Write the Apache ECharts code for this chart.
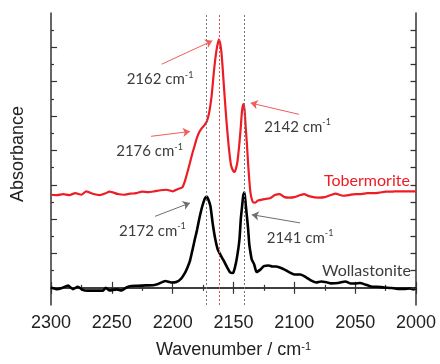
<!DOCTYPE html>
<html>
<head>
<meta charset="utf-8">
<script src="https://cdn.jsdelivr.net/npm/echarts@6/dist/echarts.min.js"></script>
<style>
  html, body { margin: 0; padding: 0; background: #fff; }
  #chart { width: 440px; height: 364px; }
</style>
</head>
<body>
<div id="chart"></div>
<script>
// Tobermorite (red) spectrum
const tobWn = [2300,2295,2290,2285,2280,2275,2271,2265,2260,2255,2252,2245,2240,2235,2230,2225,2220,2215,2210,2205,
  2200,2196,2192,2190,2188,2186,2184,2182,2180,2178,2176,2174,2172,2170,2168,2166,2164,2162,2160,2158,
  2156,2154,2152,2150,2149,2147,2146,2145,2144,2143,2142,2141,2140,2139,2138,2137,2136,2134,2132,2130,
  2125,2120,2116,2112,2108,2104,2100,2095,2092,2088,2080,2075,2070,2066,2060,2055,2050,2045,2040,2035,
  2030,2025,2020,2015,2010,2005,2000];
const tobAbs = [2.71,2.70,2.73,2.70,2.755,2.71,2.81,2.73,2.70,2.755,2.80,2.73,2.71,2.74,2.755,2.80,2.785,2.81,2.84,2.855,
  2.81,2.87,2.93,3.10,3.35,3.61,3.89,4.13,4.37,4.54,4.65,4.73,4.84,5.10,5.58,6.33,6.91,7.23,6.88,5.93,
  4.95,4.14,3.56,3.39,3.375,3.62,3.91,4.26,4.69,5.15,5.35,5.21,4.69,4.20,3.62,3.13,2.755,2.49,2.48,2.54,
  2.58,2.61,2.70,2.73,2.64,2.625,2.64,2.70,2.73,2.67,2.625,2.64,2.70,2.74,2.68,2.70,2.73,2.73,2.755,2.755,
  2.77,2.80,2.80,2.81,2.81,2.81,2.81];

// Wollastonite (black) spectrum
const wolWn = [2300,2295,2291,2286,2282,2278,2274,2270,2262,2257,2255,2252,2246,2242,2238,2234,2229,2222,2216,2212,
  2206,2201,2197,2193,2190,2188,2186,2184,2182,2180,2178,2176,2174,2173,2172,2171,2169,2167,2165,2163,
  2161,2159,2157,2155,2153,2151,2150,2148,2146,2145,2144,2143,2142,2141,2140,2139,2138,2137,2136,2135,
  2133,2131,2128,2125,2121,2118,2115,2112,2108,2104,2100,2095,2090,2086,2082,2078,2073,2070,2064,2058,
  2054,2050,2046,2042,2037,2032,2026,2020,2015,2010,2005,2002,2000];
const wolAbs = [0.01,-0.04,-0.005,0.065,-0.04,0.03,-0.06,-0.083,-0.083,-0.075,0.0,-0.075,-0.045,-0.075,0.01,0.055,0.06,0.07,0.075,0.11,
  0.2,0.157,0.17,0.27,0.43,0.58,0.76,1.06,1.38,1.68,2.03,2.33,2.56,2.63,2.66,2.6,2.38,1.85,1.42,1.12,
  0.98,0.85,0.72,0.58,0.46,0.43,0.45,0.72,1.15,1.45,2.0,2.35,2.68,2.78,2.44,2.09,1.72,1.26,1.02,0.83,
  0.68,0.46,0.53,0.63,0.65,0.62,0.62,0.59,0.53,0.45,0.39,0.39,0.30,0.21,0.157,0.186,0.157,0.13,0.14,0.186,
  0.127,0.127,0.14,0.10,0.04,0.03,0.01,-0.005,-0.03,-0.03,-0.02,-0.045,-0.005];

const tobPeaks = [2162, 2176, 2142];
const wolPeaks = [2172, 2141];
const guideLines = [2172, 2162, 2141];

// annotation placement (data coords): text centre, arrow tail, arrow head
const tobNotes = [
  { text: [2210.4, 6.07], from: [2209, 6.51], to: [2167.4, 7.19] },
  { text: [2219, 3.97], from: [2217.8, 4.41], to: [2185.8, 4.55] },
  { text: [2097.4, 4.69], from: [2096.2, 5.05], to: [2135.9, 5.38] }
];
const wolNotes = [
  { text: [2216.6, 1.66], from: [2214.5, 2.08], to: [2185.8, 2.47] },
  { text: [2095.3, 1.46], from: [2095.3, 1.89], to: [2135.0, 2.13] }
];

const RED = '#ee1c24';
const INK = '#3c3c3c';
const AXIS = '#333';
const RIGHT_TICK = 4.5; // right-edge tick length, in cm-1 (about 5px)

const pairs = (xs, ys) => xs.map((x, i) => [x, ys[i]]);
const majorY = [0, 1, 2, 3, 4, 5, 6, 7];
const minorY = [0.5, 1.5, 2.5, 3.5, 4.5, 5.5, 6.5, 7.5];

const noteRich = {
  n: { fontFamily: 'Lato', fontSize: 15, color: INK, lineHeight: 18 },
  s: { fontFamily: 'Lato', fontSize: 9, color: INK, lineHeight: 11, verticalAlign: 'top' }
};

function peakLabels(peaks, notes, seriesName, namePos, nameColor) {
  const items = peaks.map((p, i) => ({
    coord: notes[i].text,
    label: { formatter: '{n|' + p + ' cm}{s|-1}' }
  }));
  items.push({
    coord: namePos,
    label: { formatter: seriesName, fontFamily: 'Lato', fontSize: 16, color: nameColor }
  });
  return {
    symbol: 'circle', symbolSize: 0, silent: true,
    label: { show: true, position: 'inside', rich: noteRich },
    data: items
  };
}

function arrows(notes, color) {
  return notes.map(n => [
    { coord: n.from, symbol: 'none', lineStyle: { color: color, width: 1, type: 'solid' } },
    { coord: n.to, symbol: 'arrow', symbolSize: 7 }
  ]);
}

// mirrored ticks on the right frame edge, pointing back into the plot
const rightTicks = majorY.concat(minorY).map(v => [
  { coord: [2000, v], symbol: 'none', lineStyle: { color: AXIS, width: 1.3, type: 'solid' } },
  { coord: [2000 + RIGHT_TICK, v], symbol: 'none' }
]);

const chart = echarts.init(document.getElementById('chart'), null, { renderer: 'canvas' });

const xCommon = {
  type: 'value', inverse: true, min: 2000, max: 2300, interval: 50,
  axisLine: { lineStyle: { color: AXIS, width: 1.5 } },
  axisTick: { inside: true, length: 6, lineStyle: { color: AXIS, width: 1.2 } },
  minorTick: { show: true, splitNumber: 2, length: 3, lineStyle: { color: AXIS, width: 1.2 } },
  splitLine: { show: false }
};

const yBlank = {
  type: 'value', min: -0.5, max: 8, position: 'left',
  axisLabel: { show: false },
  splitLine: { show: false }
};

chart.setOption({
  animation: false,
  backgroundColor: '#fff',
  grid: { left: 51, right: 24, top: 13, bottom: 56 },
  xAxis: [
    Object.assign({}, xCommon, {
      position: 'bottom',
      name: 'Wavenumber / cm{s|-1}', nameLocation: 'middle', nameGap: 36,
      nameTextStyle: {
        fontFamily: 'Liberation Sans', fontSize: 18, color: '#222',
        rich: { s: { fontFamily: 'Liberation Sans', fontSize: 11, color: '#222', verticalAlign: 'top', lineHeight: 12 } }
      },
      axisLabel: { fontFamily: 'Liberation Sans', fontSize: 18, color: '#222', margin: 9, formatter: v => String(v) }
    }),
    Object.assign({}, xCommon, { position: 'top', axisLabel: { show: false } })
  ],
  yAxis: [
    Object.assign({}, yBlank, {
      name: 'Absorbance', nameLocation: 'middle', nameGap: 24,
      nameTextStyle: { fontFamily: 'Liberation Sans', fontSize: 18, color: '#222', padding: [0, 0, 0, 10] },
      axisLine: { show: true, lineStyle: { color: AXIS, width: 1.5 } },
      axisTick: { show: true, inside: true, length: 6, customValues: majorY, lineStyle: { color: AXIS, width: 1.2 } }
    }),
    Object.assign({}, yBlank, {
      axisLine: { show: false },
      axisTick: { show: true, inside: true, length: 3, customValues: minorY, lineStyle: { color: AXIS, width: 1.2 } }
    }),
    Object.assign({}, yBlank, {
      position: 'right',
      axisLine: { show: true, onZero: false, lineStyle: { color: AXIS, width: 1.5 } },
      axisTick: { show: false }
    })
  ],
  series: [
    {
      name: 'Guides', type: 'line', data: [], silent: true,
      markLine: {
        silent: true, symbol: 'none', label: { show: false },
        data: guideLines.map(g => ({
          xAxis: g,
          lineStyle: { color: tobPeaks.includes(g) ? '#e84a4a' : '#777', width: 1, type: [2, 2] }
        }))
      }
    },
    {
      name: 'Tobermorite', type: 'line', smooth: 0.2, showSymbol: false,
      data: pairs(tobWn, tobAbs),
      lineStyle: { color: RED, width: 2.2 }, itemStyle: { color: RED },
      markLine: { silent: true, label: { show: false }, data: arrows(tobNotes, '#ef5d5d') },
      markPoint: peakLabels(tobPeaks, tobNotes, 'Tobermorite', [2040.3, 3.11], RED)
    },
    {
      name: 'Wollastonite', type: 'line', smooth: 0.2, showSymbol: false,
      data: pairs(wolWn, wolAbs),
      lineStyle: { color: '#000', width: 2.6 }, itemStyle: { color: '#000' },
      markLine: { silent: true, clip: false, label: { show: false }, data: arrows(wolNotes, '#6e6e6e').concat(rightTicks) },
      markPoint: peakLabels(wolPeaks, wolNotes, 'Wollastonite', [2040.7, 0.50], INK)
    }
  ]
});
</script>
</body>
</html>
